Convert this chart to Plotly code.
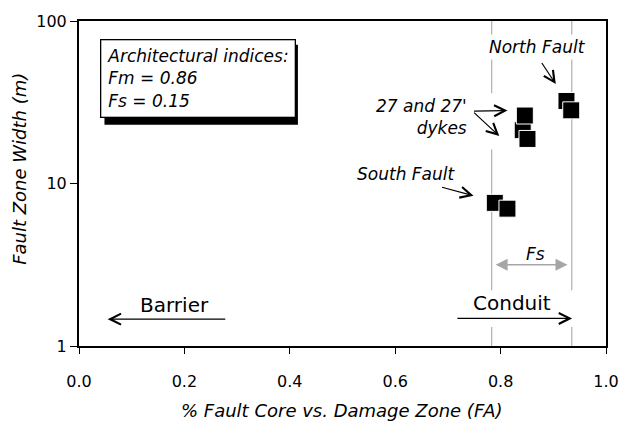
import plotly.graph_objects as go

# ---------------- data ----------------
fa_fraction = [0.925, 0.934, 0.842, 0.846, 0.851, 0.789, 0.813]
zone_width_m = [32.2, 28.2, 21.3, 26.2, 18.8, 7.6, 7.0]
structure = ["North Fault", "North Fault", "27 dyke", "27 dyke", "27' dyke",
             "South Fault", "South Fault"]
fs_bounds = [0.783, 0.935]
x_tick_vals = [0.0, 0.2, 0.4, 0.6, 0.8, 1.0]
y_tick_vals = [1, 10, 100]
indices_lines = ["Architectural indices:", "Fm = 0.86", "Fs = 0.15"]

# ---------------- layout geometry ----------------
W, H = 631, 429
ML, MR, MT, MB = 79, 14, 19, 83
PW, PH = W - ML - MR, H - MT - MB
FONT = "DejaVu Sans"


def px_x(px):
    return (px - ML) / PW


def px_y(py):
    return (H - MB - py) / PH


fig = go.Figure()
fig.add_trace(go.Scatter(
    x=fa_fraction, y=zone_width_m, mode="markers", text=structure,
    marker=dict(symbol="square", size=17, color="black",
                line=dict(color="white", width=1)),
    showlegend=False, hoverinfo="text+x+y"))

shapes = []
for xv in fs_bounds:
    shapes.append(dict(type="line", xref="x", yref="y domain", x0=xv, x1=xv,
                       y0=0, y1=1, line=dict(color="#b5b5b5", width=1.3),
                       layer="below"))
# white masks behind label groups (gaps in the guide lines)
shapes.append(dict(type="rect", xref="x", yref="y", x0=0.755, x1=0.805,
                   y0=16.2, y1=35.9, fillcolor="white",
                   line=dict(width=0), layer="below"))
shapes.append(dict(type="rect", xref="x", yref="y", x0=0.712, x1=0.942,
                   y0=1.307, y1=2.20, fillcolor="white",
                   line=dict(width=0), layer="below"))
# drop shadow of the indices box
shapes.append(dict(type="rect", xref="paper", yref="paper",
                   x0=px_x(105), x1=px_x(302.5), y0=px_y(123.5), y1=px_y(43),
                   fillcolor="black", line=dict(width=0), layer="above"))

ann = []
ital = dict(family=FONT, size=17, color="black", style="italic")


def arrow(x, y, ax, ay, **kw):
    d = dict(x=x, y=y, ax=ax, ay=ay, xref="x", yref="y", axref="x", ayref="y",
             text="", showarrow=True, arrowhead=5, arrowsize=1.8,
             arrowwidth=1.2, arrowcolor="black")
    d.update(kw)
    ann.append(d)


# indices box
ann.append(dict(x=px_x(100), y=px_y(37), xref="paper", yref="paper",
                xanchor="left", yanchor="top", align="left",
                text="<br>".join(indices_lines), showarrow=False, font=ital,
                bgcolor="white", bordercolor="black", borderwidth=1.3,
                borderpad=6))

# labels
ann.append(dict(x=0.8694, y=1.8396, xref="x", yref="y", text="North Fault",
                showarrow=False, font=ital, bgcolor="white", borderpad=2))
ann.append(dict(x=0.7394, y=1.408, xref="x", yref="y", xanchor="right",
                align="right", text="27 and 27'<br>dykes", showarrow=False,
                font=ital))
ann.append(dict(x=0.6214, y=1.059, xref="x", yref="y", text="South Fault",
                showarrow=False, font=ital))
ann.append(dict(x=0.8657, y=0.569, xref="x", yref="y", text="Fs",
                showarrow=False, font=ital))
ann.append(dict(x=0.182, y=0.254, xref="x", yref="y", text="Barrier",
                showarrow=False, font=dict(family=FONT, size=20, color="black")))
ann.append(dict(x=0.8211, y=0.263, xref="x", yref="y", text="Conduit",
                showarrow=False, font=dict(family=FONT, size=20, color="black")))

# arrows
arrow(0.9047, 1.6119, 0.8763, 1.7508)
arrow(0.8131, 1.449, 0.7468, 1.4448)
arrow(0.7975, 1.2917, 0.7468, 1.4448)
arrow(0.7487, 0.9244, 0.686, 0.9795)
arrow(0.0544, 0.1653, 0.2805, 0.1653)
arrow(0.9357, 0.1696, 0.7152, 0.1696)
arrow(0.927, 0.5002, 0.7877, 0.5002, arrowside="end+start", arrowhead=2,
      startarrowhead=2, arrowsize=1.6, startarrowsize=1.6, arrowwidth=1.5,
      arrowcolor="#a6a6a6")

# axis titles
title_font = dict(family=FONT, size=18, color="black", style="italic")
ann.append(dict(x=px_x(347.5), y=px_y(411), xref="paper", yref="paper",
                xanchor="center", yanchor="middle",
                text="% Fault Core vs. Damage Zone (FA)", showarrow=False,
                font=title_font))
ann.append(dict(x=px_x(18), y=px_y(167.5), xref="paper", yref="paper",
                xanchor="center", yanchor="middle",
                text="Fault Zone Width (m)", textangle=-90, showarrow=False,
                font=title_font))

axis_common = dict(showline=True, linecolor="black", linewidth=2, mirror=True,
                   ticks="outside", tickcolor="black", tickwidth=1,
                   showgrid=False, zeroline=False,
                   tickfont=dict(family=FONT, size=16, color="black"))

fig.update_layout(
    width=W, height=H, margin=dict(l=ML, r=MR, t=MT, b=MB, pad=0),
    paper_bgcolor="white", plot_bgcolor="white",
    xaxis=dict(range=[0, 1], tickvals=x_tick_vals, tickformat=".1f",
               ticklen=6, ticklabelstandoff=14, **axis_common),
    yaxis=dict(type="log", range=[0, 2], tickvals=y_tick_vals, ticklen=7,
               **axis_common),
    shapes=shapes, annotations=ann, showlegend=False)

fig.write_html("out.html")
